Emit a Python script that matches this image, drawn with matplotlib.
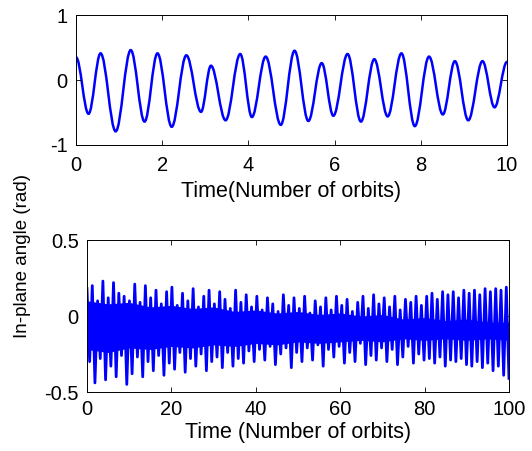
import numpy as np
import matplotlib
matplotlib.use("Agg")
import matplotlib.pyplot as plt
from matplotlib.path import Path
from matplotlib.patches import PathPatch
from matplotlib.ticker import FormatStrFormatter

plt.rcParams['font.family'] = ['Liberation Sans', 'DejaVu Sans']
plt.rcParams['axes.unicode_minus'] = False

# top panel: turning points of the in-plane angle over the first 10 orbits
short_t = [0.00, 0.29, 0.57, 0.92, 1.27, 1.59, 1.89, 2.22, 2.56, 2.90, 3.13,
           3.47, 3.81, 4.08, 4.40, 4.75, 5.07, 5.39, 5.70, 5.97, 6.30, 6.61,
           6.92, 7.23, 7.55, 7.86, 8.19, 8.51, 8.79, 9.10, 9.43, 9.71, 10.00]
short_angle = [0.35, -0.52, 0.41, -0.79, 0.46, -0.64, 0.41, -0.72, 0.38, -0.49,
               0.22, -0.62, 0.40, -0.57, 0.36, -0.69, 0.45, -0.63, 0.26, -0.55,
               0.40, -0.64, 0.32, -0.56, 0.41, -0.71, 0.36, -0.53, 0.29, -0.62,
               0.29, -0.42, 0.28]

# bottom panel: peak and trough of each libration cycle over 100 orbits
long_peaks = [0.18, 0.20, 0.10, 0.23, 0.12, 0.22, 0.15, 0.13,
              0.10, 0.21, 0.09, 0.20, 0.12, 0.17, 0.08, 0.16,
              0.19, 0.07, 0.15, 0.10, 0.18, 0.06, 0.13, 0.17,
              0.08, 0.16, 0.11, 0.05, 0.17, 0.09, 0.14, 0.06,
              0.13, 0.04, 0.12, 0.08, 0.03, 0.14, 0.07, 0.12,
              0.05, 0.13, 0.02, 0.10, 0.06, 0.12, 0.04, 0.13,
              0.07, 0.11, 0.03, 0.09, 0.13, 0.05, 0.14, 0.08,
              0.12, 0.06, 0.13, 0.04, 0.11, 0.09, 0.13, 0.07,
              0.13, 0.15, 0.11, 0.16, 0.14, 0.16, 0.12, 0.17,
              0.15, 0.17, 0.14, 0.18, 0.16, 0.18, 0.17, 0.19]
long_troughs = [-0.30, -0.44, -0.28, -0.42, -0.33, -0.40, -0.26, -0.45,
                -0.38, -0.27, -0.40, -0.30, -0.36, -0.26, -0.39, -0.31,
                -0.35, -0.24, -0.37, -0.28, -0.33, -0.25, -0.36, -0.30,
                -0.27, -0.34, -0.24, -0.33, -0.28, -0.31, -0.23, -0.30,
                -0.22, -0.29, -0.20, -0.32, -0.25, -0.21, -0.34, -0.24,
                -0.30, -0.21, -0.29, -0.19, -0.33, -0.22, -0.27, -0.20,
                -0.31, -0.24, -0.30, -0.18, -0.32, -0.26, -0.29, -0.21,
                -0.30, -0.22, -0.32, -0.27, -0.20, -0.31, -0.25, -0.29,
                -0.28, -0.31, -0.27, -0.33, -0.29, -0.30, -0.28, -0.32,
                -0.33, -0.30, -0.34, -0.31, -0.36, -0.33, -0.39, -0.41]

# dense band that the fast oscillation fills in solid, read every 5 orbits
band_t = [0, 5, 10, 15, 20, 25, 30, 35, 40, 45, 50,
          55, 60, 65, 70, 75, 80, 85, 90, 95, 100]
band_top = [0.10, 0.08, 0.09, 0.06, 0.07, 0.05, 0.06, 0.03, 0.04, 0.02, 0.03,
            0.01, 0.02, 0.00, 0.01, -0.02, -0.01, -0.03, -0.02, -0.04, -0.04]
band_bottom = [-0.22, -0.24, -0.21, -0.22, -0.20, -0.21, -0.19, -0.20, -0.18,
               -0.19, -0.17, -0.18, -0.17, -0.16, -0.17, -0.15, -0.16, -0.15,
               -0.16, -0.15, -0.16]

fig = plt.figure(figsize=(5.32, 4.51), dpi=100)
ax1 = fig.add_axes([0.1429, 0.6785, 0.8102, 0.2882])
ax2 = fig.add_axes([0.1635, 0.1308, 0.7932, 0.3370])

# smooth curve through the turning points (flat tangent at each extremum)
k = 0.364
verts = [(short_t[0], short_angle[0])]
codes = [Path.MOVETO]
for i in range(len(short_t) - 1):
    t0, t1 = short_t[i], short_t[i + 1]
    v0, v1 = short_angle[i], short_angle[i + 1]
    dt = t1 - t0
    verts += [(t0 + k * dt, v0), (t1 - k * dt, v1), (t1, v1)]
    codes += [Path.CURVE4] * 3
ax1.add_patch(PathPatch(Path(verts, codes), facecolor='none',
                        edgecolor='#0000ff', lw=1.8))

# long run: solid band plus alternating peak / trough of each cycle
ax2.fill_between(band_t, band_bottom, band_top, color='#0000ff', lw=0)
zig = np.ravel(np.column_stack([long_peaks, long_troughs]))
t_long = np.linspace(0, 100, len(zig))
ax2.plot(t_long, zig, color='#0000ff', lw=2.0)

ax1.set_xlim(0, 10)
ax1.set_ylim(-1, 1)
ax1.set_xticks([0, 2, 4, 6, 8, 10])
ax1.set_yticks([-1, 0, 1])
ax2.set_xlim(0, 100)
ax2.set_ylim(-0.5, 0.5)
ax2.set_xticks([0, 20, 40, 60, 80, 100])
ax2.set_yticks([-0.5, 0, 0.5])

for ax in (ax1, ax2):
    ax.yaxis.set_major_formatter(FormatStrFormatter('%g'))
    ax.tick_params(direction='in', top=True, right=True, length=3.5,
                   width=0.6, labelsize=14.5)
    ax.tick_params(axis='y', pad=6)
    for s in ax.spines.values():
        s.set_linewidth(0.7)
ax1.tick_params(axis='x', pad=8)
ax2.tick_params(axis='x', pad=6)

ax1.set_xlabel('Time(Number of orbits)', fontsize=15.5, labelpad=4)
ax2.set_xlabel('Time (Number of orbits)', fontsize=15.5, labelpad=2)
fig.text(0.043, 0.432, 'In-plane angle (rad)', rotation=90, fontsize=13.5,
         ha='center', va='center')

fig.savefig('out.png', dpi=100)
